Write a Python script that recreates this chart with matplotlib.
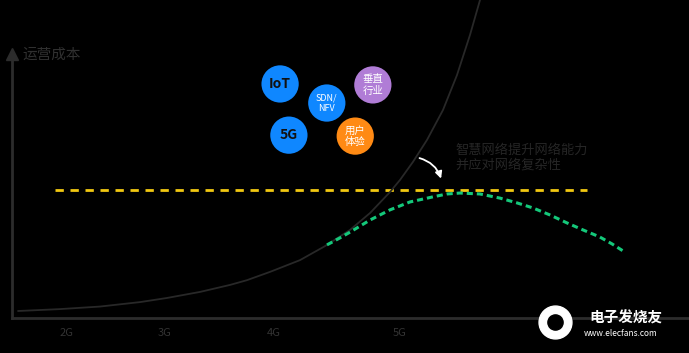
import matplotlib
matplotlib.use("Agg")
import matplotlib.pyplot as plt

plt.rcParams['font.family'] = ['Noto Sans CJK SC', 'DejaVu Sans']

# generations on the time axis
gen_labels = ["2G", "3G", "4G", "5G"]
gen_pos = [0.81, 2.26, 3.86, 5.73]

# operating cost without smart network (black curve)
cost_x = [0.089, 0.709, 1.300, 1.891, 2.290, 2.777, 3.220, 3.471, 3.811, 4.254, 4.623,
          4.993, 5.288, 5.583, 5.731, 5.923, 6.130, 6.366, 6.573, 6.765, 6.913]
cost_y = [0.22, 0.28, 0.36, 0.50, 0.63, 0.82, 1.04, 1.19, 1.45, 1.82, 2.26,
          2.77, 3.30, 3.96, 4.34, 4.91, 5.60, 6.54, 7.64, 8.90, 10.0]

# cost with smart network (green dashed)
smart_x = [4.653, 4.845, 4.993, 5.288, 5.583, 5.879, 6.219, 6.425, 6.617, 6.913,
           7.208, 7.459, 7.696, 7.947, 8.198, 8.434, 8.680, 8.863, 9.025]
smart_y = [2.30, 2.52, 2.70, 3.08, 3.40, 3.65, 3.81, 3.90, 3.93, 3.90,
           3.77, 3.62, 3.46, 3.24, 2.99, 2.77, 2.55, 2.33, 2.11]

# cost ceiling (yellow dashed)
limit_x = [0.64, 8.49]
limit_y = [4.03, 4.03]

# driver bubbles
bubble_labels = ["IoT", "SDN/\nNFV", "垂直\n行业", "5G", "用户\n体验"]
bubble_x = [3.96, 4.65, 5.33, 4.09, 5.07]
bubble_y = [7.36, 6.76, 7.33, 5.75, 5.72]
bubble_colors = ["#0f87ff", "#0f87ff", "#b07cd6", "#0f87ff", "#ff8a14"]
bubble_text_colors = ["#111111", "white", "white", "#111111", "white"]
bubble_font = [10, 6.5, 7.5, 10, 7.5]

fig = plt.figure(figsize=(6.89, 3.53), dpi=100, facecolor="black")
ax = fig.add_axes([12 / 689, 35 / 353, 677 / 689, 318 / 353])
ax.set_facecolor("black")
ax.set_xlim(0, 10)
ax.set_ylim(0, 10)

axis_color = "#2c2c2c"
for s in ["top", "right"]:
    ax.spines[s].set_visible(False)
for s in ["left", "bottom"]:
    ax.spines[s].set_color(axis_color)
    ax.spines[s].set_linewidth(2.0)
ax.spines["left"].set_bounds(0, 8.1)
ax.plot([0], [8.3], marker="^", markersize=9, color=axis_color, clip_on=False)

ax.set_xticks(gen_pos)
ax.set_xticklabels(gen_labels, color="#333333", fontsize=8)
ax.tick_params(axis="x", length=0, pad=7)
ax.set_yticks([])

ax.text(0.16, 8.27, "运营成本", color="#303030", fontsize=10.5, va="center", ha="left")

ax.plot(limit_x, limit_y, color="#f2c811", lw=2, dashes=(3, 2.4))
ax.plot(cost_x, cost_y, color="#282828", lw=1.3, solid_capstyle="round")
ax.plot(smart_x, smart_y, color="#14c87a", lw=2.2, dashes=(2, 1.3))

ax.scatter(bubble_x, bubble_y, s=720, c=bubble_colors, edgecolors="none", zorder=3)
for lbl, bx, by, tc, fs in zip(bubble_labels, bubble_x, bubble_y, bubble_text_colors, bubble_font):
    weight = "bold" if lbl in ("IoT", "5G") else "normal"
    ax.text(bx, by, lbl, color=tc, fontsize=fs, ha="center", va="center",
            weight=weight, linespacing=1.15, zorder=4)

ax.text(6.55, 5.05, "智慧网络提升网络能力\n并应对网络复杂性", color="#262626",
        fontsize=9.5, ha="left", va="center", linespacing=1.2)
ax.annotate("", xy=(6.35, 4.3), xytext=(5.98, 5.05),
            arrowprops=dict(arrowstyle="-|>", color="white", lw=1.3,
                            connectionstyle="arc3,rad=-0.3", mutation_scale=10))

# watermark
fig.text(0.855, 0.10, "电子发烧友", color="white", fontsize=10.5, weight="bold", ha="left", va="center")
fig.text(0.848, 0.055, "www.elecfans.com", color="white", fontsize=6, ha="left", va="center")
ax.scatter([555 / 689], [(353 - 322) / 353], s=560, color="white", transform=fig.transFigure,
           clip_on=False, zorder=5)
ax.scatter([555 / 689], [(353 - 322) / 353], s=120, color="black", transform=fig.transFigure,
           clip_on=False, zorder=6)

fig.savefig("out.png", dpi=100, facecolor="black")
